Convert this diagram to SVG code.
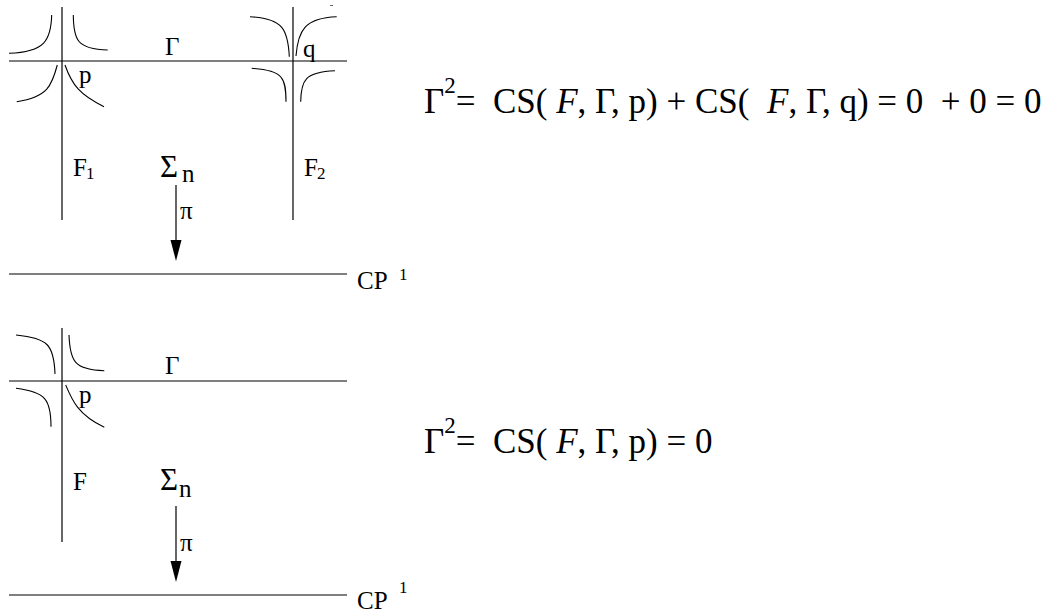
<svg xmlns="http://www.w3.org/2000/svg" width="1058" height="612" viewBox="0 0 1058 612">
<defs>
<style>
.ln{stroke:#000;stroke-width:1.2;fill:none}
.cv{stroke:#000;stroke-width:1.1;fill:none}
.ah{fill:#000;stroke:none}
text{font-family:"Liberation Serif","Times New Roman",serif;fill:#000}
.lb{font-size:25px}
.sub{font-size:17px}
.sg{font-size:31px}
.eq{font-size:35px}
.it{font-style:italic}
</style>
</defs>
<rect width="1058" height="612" fill="#fff"/>
<line x1="330" y1="5.5" x2="333" y2="5.5" stroke="#666" stroke-width="1"/>

<g id="top-panel">
<line class="ln" x1="9" y1="61" x2="347" y2="61"/>
<line class="ln" x1="62" y1="7" x2="62" y2="220"/>
<line class="ln" x1="293" y1="7" x2="293" y2="220"/>
<line class="ln" x1="9" y1="274" x2="347" y2="274"/>
</g>
<g id="fibre-p-top">
<path class="cv" d="M9,53.3 C45,52 51,40 51.7,15"/>
<path class="cv" d="M73.3,15 C73.5,40 77,49 107.7,50"/>
<path class="cv" d="M57.3,65 C52,85 48,97 16.7,101.7"/>
<path class="cv" d="M65,65 C72,85 80,95 104,106.7"/>
</g>
<g id="fibre-q-top">
<path class="cv" d="M250,16.7 C283,18 288,30 289.3,56.7"/>
<path class="cv" d="M336.7,16.7 C305,18 298,30 296,56"/>
<path class="cv" d="M251.7,68.3 C283,70 286,78 286,101.7"/>
<path class="cv" d="M335,70.7 C305,72 301,80 300.7,101.7"/>
</g>
<g id="labels-top">
<text class="lb" x="165" y="55">Γ</text>
<text class="lb" x="79" y="83">p</text>
<text class="lb" x="303" y="57">q</text>
<text class="lb" x="73" y="176">F<tspan class="sub" x="86" dy="3">1</tspan></text>
<text class="lb" x="304" y="176">F<tspan class="sub" x="317" dy="3">2</tspan></text>
<text class="sg" x="160" y="177">Σ<tspan class="lb" x="182" dy="5">n</tspan></text>
<text class="lb" x="180" y="219">π</text>
<text class="lb" x="357" y="289">CP<tspan class="sub" x="399" y="280">1</tspan></text>
</g>

<g id="bottom-panel">
<line class="ln" x1="9" y1="381" x2="347" y2="381"/>
<line class="ln" x1="62" y1="328" x2="62" y2="542"/>
<line class="ln" x1="9" y1="595" x2="347" y2="595"/>
</g>
<g id="fibre-p-bottom">
<path class="cv" d="M16,335 C48,338 54,345 55,374"/>
<path class="cv" d="M69,335 C70,362 75,370 104.3,370.7"/>
<path class="cv" d="M16,388.3 C46,392 51,400 51,426.7"/>
<path class="cv" d="M65.7,385 C72,400 78,415 104.3,427.3"/>
</g>
<g id="labels-bottom">
<text class="lb" x="165" y="374">Γ</text>
<text class="lb" x="79" y="403">p</text>
<text class="lb" x="73" y="490">F</text>
<text class="sg" x="160" y="490">Σ<tspan class="lb" x="179" dy="7">n</tspan></text>
<text class="lb" x="180" y="551">π</text>
<text class="lb" x="357" y="609">CP<tspan class="sub" x="399" y="593">1</tspan></text>
</g>

<g id="connectors">
<line class="ln" x1="176" y1="185" x2="176" y2="242"/>
<polygon class="ah" points="170.5,240 181.5,240 176,261"/>
<line class="ln" x1="176" y1="506" x2="176" y2="563"/>
<polygon class="ah" points="170.5,561 181.5,561 176,582"/>
</g>

<g id="equation-top">
<text class="eq" x="424" y="113" xml:space="preserve">Γ<tspan font-size="23" dy="-20">2</tspan><tspan dy="20">=  CS( </tspan><tspan class="it">F</tspan>, Γ, p) + CS(  <tspan class="it">F</tspan>, Γ, q) = 0  + 0 = 0</text>
</g>
<g id="equation-bottom">
<text class="eq" x="424" y="453" xml:space="preserve">Γ<tspan font-size="23" dy="-20">2</tspan><tspan dy="20">=  CS( </tspan><tspan class="it">F</tspan>, Γ, p) = 0</text>
</g>
</svg>
